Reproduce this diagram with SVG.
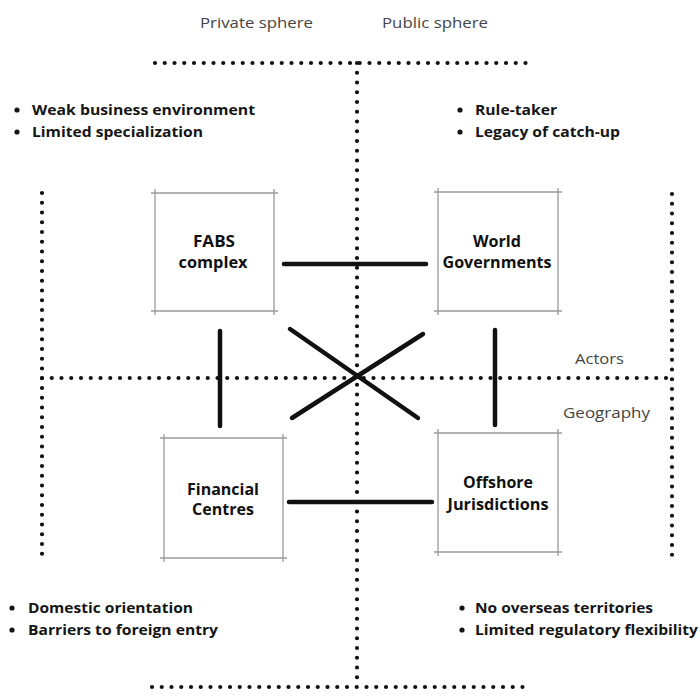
<svg xmlns="http://www.w3.org/2000/svg" width="700" height="697" viewBox="0 0 700 697">
<defs>
<style>
.dot{stroke:#111;stroke-width:4.2;stroke-linecap:round;stroke-dasharray:0 9.75;fill:none}
.box{fill:none;stroke:#9a9a9a;stroke-width:1.3}
.con{stroke:#111;stroke-width:4.5;stroke-linecap:round;fill:none}
.hdr{font-family:"Open Sans","Liberation Sans",sans-serif;font-size:15px;fill:#444}
.lbl{font-family:"Open Sans","Liberation Sans",sans-serif;font-size:15.5px;font-weight:700;fill:#111;text-anchor:middle}
.bul{font-family:"Open Sans","Liberation Sans",sans-serif;font-size:14.5px;font-weight:700;fill:#151515}
.bd{fill:#151515}
</style>
</defs>
<rect width="700" height="697" fill="#fff"/>
<g id="guides">
<line class="dot" x1="155" y1="63" x2="533" y2="63"/>
<line class="dot" x1="357" y1="63" x2="357" y2="687"/>
<line class="dot" x1="152" y1="687" x2="532" y2="687"/>
<line class="dot" x1="42" y1="378" x2="672" y2="378"/>
<line class="dot" x1="42" y1="193" x2="42" y2="558"/>
<line class="dot" x1="672" y1="194" x2="672" y2="558"/>
</g>
<g id="headers">
<text class="hdr" x="200" y="28" textLength="113" lengthAdjust="spacingAndGlyphs">Private sphere</text>
<text class="hdr" x="382" y="28" textLength="106" lengthAdjust="spacingAndGlyphs">Public sphere</text>
<text class="hdr" x="575" y="364" textLength="49" lengthAdjust="spacingAndGlyphs">Actors</text>
<text class="hdr" x="563" y="418" textLength="87" lengthAdjust="spacingAndGlyphs">Geography</text>
</g>
<g id="notes">
<circle class="bd" cx="17" cy="110" r="2.6"/>
<text class="bul" x="32" y="115" textLength="223" lengthAdjust="spacingAndGlyphs">Weak business environment</text>
<circle class="bd" cx="17" cy="132" r="2.6"/>
<text class="bul" x="32" y="137" textLength="171" lengthAdjust="spacingAndGlyphs">Limited specialization</text>
<circle class="bd" cx="460" cy="110" r="2.6"/>
<text class="bul" x="475" y="115" textLength="82" lengthAdjust="spacingAndGlyphs">Rule-taker</text>
<circle class="bd" cx="460" cy="132" r="2.6"/>
<text class="bul" x="475" y="137" textLength="145" lengthAdjust="spacingAndGlyphs">Legacy of catch-up</text>
<circle class="bd" cx="12" cy="608" r="2.6"/>
<text class="bul" x="28" y="613" textLength="165" lengthAdjust="spacingAndGlyphs">Domestic orientation</text>
<circle class="bd" cx="12" cy="630" r="2.6"/>
<text class="bul" x="28" y="635" textLength="190" lengthAdjust="spacingAndGlyphs">Barriers to foreign entry</text>
<circle class="bd" cx="462" cy="608" r="2.6"/>
<text class="bul" x="475" y="613" textLength="178" lengthAdjust="spacingAndGlyphs">No overseas territories</text>
<circle class="bd" cx="462" cy="630" r="2.6"/>
<text class="bul" x="475" y="635" textLength="223" lengthAdjust="spacingAndGlyphs">Limited regulatory flexibility</text>
</g>
<g id="connectors">
<line class="con" x1="284" y1="264" x2="426" y2="264"/>
<line class="con" x1="289" y1="502" x2="432" y2="502"/>
<line class="con" x1="220" y1="331" x2="220" y2="426"/>
<line class="con" x1="495" y1="330" x2="495" y2="425"/>
<line class="con" x1="290" y1="329" x2="418" y2="418"/>
<line class="con" x1="292" y1="418" x2="423" y2="334"/>
</g>
<g id="fabs">
<path class="box" d="M151 193H278M151 311H278M155 189V315M274 189V315"/>
<text class="lbl" x="214" y="247" textLength="42" lengthAdjust="spacingAndGlyphs">FABS</text>
<text class="lbl" x="213" y="268" textLength="69" lengthAdjust="spacingAndGlyphs">complex</text>
</g>
<g id="world">
<path class="box" d="M434 192H562M434 311H562M438 188V315M558 188V315"/>
<text class="lbl" x="497" y="247" textLength="48" lengthAdjust="spacingAndGlyphs">World</text>
<text class="lbl" x="497" y="268" textLength="109" lengthAdjust="spacingAndGlyphs">Governments</text>
</g>
<g id="financial">
<path class="box" d="M160 438H287M160 558H287M164 434V562M283 434V562"/>
<text class="lbl" x="223" y="495" textLength="72" lengthAdjust="spacingAndGlyphs">Financial</text>
<text class="lbl" x="223" y="515" textLength="62" lengthAdjust="spacingAndGlyphs">Centres</text>
</g>
<g id="offshore">
<path class="box" d="M434 433H562M434 552H562M438 429V556M558 429V556"/>
<text class="lbl" x="498" y="488" textLength="70" lengthAdjust="spacingAndGlyphs">Offshore</text>
<text class="lbl" x="498" y="510" textLength="101" lengthAdjust="spacingAndGlyphs">Jurisdictions</text>
</g>
</svg>
